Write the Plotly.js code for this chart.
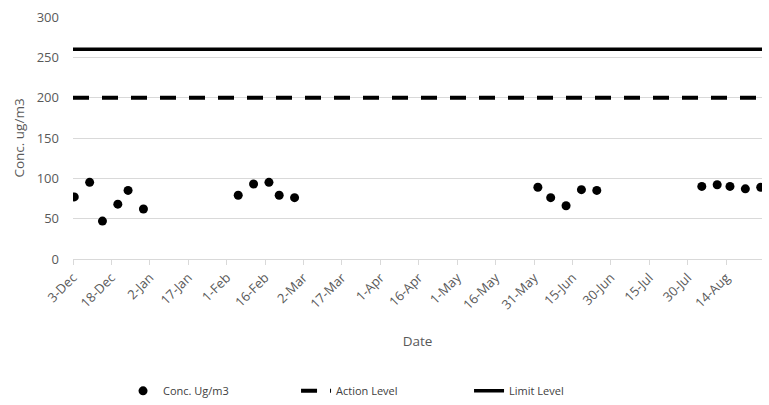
<!DOCTYPE html>
<html>
<head>
<meta charset="utf-8">
<script src="https://cdn.plot.ly/plotly-3.0.1.min.js"></script>
<style>html,body{margin:0;padding:0;background:#fff;}#chart{width:769px;height:405px;}</style>
</head>
<body>
<div id="chart"></div>
<script>
// Sampling dates and concentrations
const sampleDates = [
  '2019-12-03','2019-12-09','2019-12-14','2019-12-20','2019-12-24','2019-12-30',
  '2020-02-05','2020-02-11','2020-02-17','2020-02-21','2020-02-27',
  '2020-06-01','2020-06-06','2020-06-12','2020-06-18','2020-06-24',
  '2020-08-04','2020-08-10','2020-08-15','2020-08-21','2020-08-27'
];
const concValues = [
  77, 95, 47, 68, 85, 62,
  79, 93, 95, 79, 76,
  89, 76, 66, 86, 85,
  90, 92, 90, 87, 89
];
// Reference levels span the full date axis
const levelDates = ['2019-12-03', '2020-08-28'];
const actionLevel = [200, 200];
const limitLevel = [260, 260];
// Tick labels every 15 days
const tickDates = ['2019-12-03','2019-12-18','2020-01-02','2020-01-17','2020-02-01','2020-02-16','2020-03-02','2020-03-17','2020-04-01','2020-04-16','2020-05-01','2020-05-16','2020-05-31','2020-06-15','2020-06-30','2020-07-15','2020-07-30','2020-08-14'];
const tickLabels = ['3-Dec','18-Dec','2-Jan','17-Jan','1-Feb','16-Feb','2-Mar','17-Mar','1-Apr','16-Apr','1-May','16-May','31-May','15-Jun','30-Jun','15-Jul','30-Jul','14-Aug'];

const font = '"Open Sans", Lato, sans-serif';
const grey = '#595959';

const traces = [
  {
    x: sampleDates.map(d => d + ' 12:00'), y: concValues,
    type: 'scatter', mode: 'markers', name: 'Conc. Ug/m3',
    marker: {color: '#000', size: 9}
  },
  {
    x: levelDates, y: actionLevel, type: 'scatter', mode: 'lines', name: 'Action Level',
    line: {color: '#000', width: 4, dash: '16px,13px'}
  },
  {
    x: levelDates, y: limitLevel, type: 'scatter', mode: 'lines', name: 'Limit Level',
    line: {color: '#000', width: 3.5}
  }
];

const layout = {
  width: 769, height: 405,
  margin: {l: 73, r: 7, t: 17, b: 146},
  paper_bgcolor: '#fff', plot_bgcolor: '#fff',
  font: {family: font, size: 13, color: grey},
  showlegend: true,
  xaxis: {
    type: 'date',
    range: ['2019-12-03', '2020-08-28'],
    tickmode: 'array', tickvals: tickDates, ticktext: tickLabels,
    tickangle: -45,
    showgrid: false, zeroline: false,
    showline: true, linecolor: '#d9d9d9', linewidth: 1,
    ticks: 'outside', ticklen: 5, tickcolor: '#d9d9d9',
    tickfont: {family: font, size: 13, color: grey},
    title: {text: 'Date', font: {family: font, size: 13.5, color: grey}, standoff: 24}
  },
  yaxis: {
    range: [0, 300], dtick: 50, tick0: 0,
    showgrid: true, gridcolor: '#d9d9d9', gridwidth: 1,
    zeroline: false, showline: false, ticks: '',
    ticklabelstandoff: 13,
    tickfont: {family: font, size: 13, color: grey},
    title: {text: 'Conc. ug/m3', font: {family: font, size: 13.5, color: grey}, standoff: 8}
  },
  legend: {
    orientation: 'h',
    xref: 'container', yref: 'container',
    x: 0.16, xanchor: 'left', y: 0.035, yanchor: 'middle',
    entrywidth: 128, entrywidthmode: 'pixels',
    font: {family: font, size: 11, color: '#404040'},
    itemclick: false
  }
};

Plotly.newPlot('chart', traces, layout, {displayModeBar: false, staticPlot: true});
</script>
</body>
</html>
